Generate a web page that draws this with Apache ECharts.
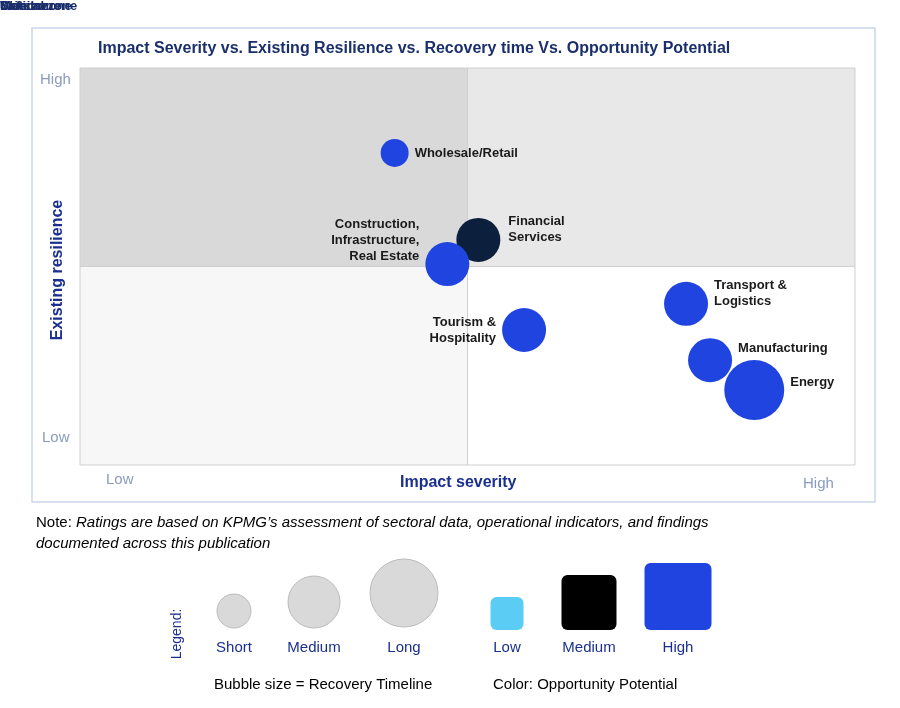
<!DOCTYPE html><html><head><meta charset="utf-8"><script src="https://cdn.jsdelivr.net/npm/echarts@6/dist/echarts.min.js"></script>
<style>body{margin:0}#c{width:900px;height:708px}</style></head><body><div id="c"></div><script>
const sectors=['Wholesale/Retail','Financial\nServices','Construction,\nInfrastructure,\nReal Estate','Tourism &\nHospitality','Transport &\nLogistics','Manufacturing','Energy'];
const impact=[4.06,5.14,4.74,5.73,7.82,8.13,8.70];
const resilience=[7.86,5.67,5.06,3.40,4.06,2.64,1.89];
const recovery=['Short','Medium','Medium','Medium','Medium','Medium','Long'];
const opportunity=['High','Medium','High','High','High','High','High'];
const labelSide=['right','right','left','left','right','right','right'];
const zones=['Safe zone','Watch zone','Monitor','Critical zone'];
const sizeLegend=['Short','Medium','Long'];
const colorLegend=['Low','Medium','High'];
const sizeMap={Short:28,Medium:44,Long:60};
const colorMap={Low:'#5bcdf5',Medium:'#0c1f3d',High:'#1f44e0'};
const legendColor={Low:'#5bcdf5',Medium:'#000000',High:'#1f44e0'};
const navy='#1a2f6b',tick='#8a9bbf';
const chart=echarts.init(document.getElementById('c'));
const labelOffset=[[0,0],[0,-10],[0,-24],[0,0],[0,-10],[0,-12],[0,-8]];
const data=sectors.map((s,i)=>({name:s,value:[impact[i],resilience[i]],symbolSize:sizeMap[recovery[i]],
 itemStyle:{color:colorMap[opportunity[i]],opacity:1},label:{position:labelSide[i],distance:i===1?8:6,offset:labelOffset[i]}}));
const g=[];
g.push({type:'rect',shape:{x:32,y:28,width:843,height:474},style:{fill:'none',stroke:'#c9d6ea',lineWidth:1.5},z:-1});
g.push({type:'text',left:98,top:41,style:{text:'Impact Severity vs. Existing Resilience vs. Recovery time Vs. Opportunity Potential',font:'bold 16px Arial',fill:navy}});
[['High',40,72],['Low',42,430],['Low',106,472],['High',803,476]].forEach(t=>g.push({type:'text',left:t[1],top:t[2],style:{text:t[0],font:'15px Arial',fill:tick}}));
g.push({type:'text',left:400,top:475,style:{text:'Impact severity',font:'bold 16px Arial',fill:'#1a2f8f'}});
g.push({type:'text',x:50,y:270,rotation:Math.PI/2,style:{text:'Existing resilience',font:'bold 16px Arial',fill:'#1a2f8f',align:'center',verticalAlign:'top'}});
g.push({type:'text',left:36,top:512,style:{text:'Note: {i|Ratings are based on KPMG\u2019s assessment of sectoral data, operational indicators, and findings}\n{i|documented across this publication}',font:'15px Arial',fill:'#000',lineHeight:21,rich:{i:{font:'italic 15px Arial',fill:'#000'}}}});
g.push({type:'text',x:177,y:634,rotation:Math.PI/2,style:{text:'Legend:',font:'14px Arial',fill:'#1a2f8f',align:'center',verticalAlign:'middle'}});
const sx=[234,314,404],sr=[17,26,34],sy=[611,602,593];
sizeLegend.forEach((s,i)=>{g.push({type:'circle',shape:{cx:sx[i],cy:sy[i],r:sr[i]},style:{fill:'#d9d9d9',stroke:'#bbb',lineWidth:1}});
 g.push({type:'text',x:sx[i],y:640,style:{text:s,font:'15px Arial',fill:'#1a2f8f',align:'center'}});});
const cx=[507,589,678],cs=[33,55,67];
colorLegend.forEach((s,i)=>{g.push({type:'rect',shape:{x:cx[i]-cs[i]/2,y:630-cs[i],width:cs[i],height:cs[i],r:6},style:{fill:legendColor[s]}});
 g.push({type:'text',x:cx[i],y:640,style:{text:s,font:'15px Arial',fill:'#1a2f8f',align:'center'}});});
g.push({type:'text',left:214,top:677,style:{text:'Bubble size = Recovery Timeline',font:'15px Arial',fill:'#000'}});
g.push({type:'text',left:493,top:677,style:{text:'Color: Opportunity Potential',font:'15px Arial',fill:'#000'}});
const zl={fontWeight:'bold',fontSize:13,color:navy,position:'insideTopLeft',distance:[24,10],fontFamily:'Arial'};
chart.setOption({animation:false,
 grid:{left:80,right:45,top:68,bottom:243},
 xAxis:{min:0,max:10,axisLabel:{show:false},axisTick:{show:false},splitLine:{show:false},axisLine:{show:false}},
 yAxis:{min:0,max:10,axisLabel:{show:false},axisTick:{show:false},splitLine:{show:false},axisLine:{show:false}},
 graphic:g,
 series:[{type:'scatter',data:data,
  label:{show:true,formatter:p=>p.name,fontWeight:'bold',fontSize:13,color:'#1a1a1a',fontFamily:'Arial',lineHeight:16,align:'left'},
  markArea:{silent:true,label:zl,data:[
   [{name:zones[0],coord:[0,5],itemStyle:{color:'#d9d9d9',borderColor:'#cfcfcf',borderWidth:1}},{coord:[5,10]}],
   [{name:zones[1],coord:[5,5],itemStyle:{color:'#e8e8e8',borderColor:'#cfcfcf',borderWidth:1}},{coord:[10,10]}],
   [{name:zones[2],coord:[0,0],itemStyle:{color:'#f7f7f7',borderColor:'#cfcfcf',borderWidth:1}},{coord:[5,5]}],
   [{name:zones[3],coord:[5,0],itemStyle:{color:'#ffffff',borderColor:'#cfcfcf',borderWidth:1}},{coord:[10,5]}]]}}]});
chart.setOption({series:[{data:data.map((d,i)=>labelSide[i]==='left'?Object.assign({},d,{label:Object.assign({},d.label,{align:'right'})}):d)}]});
</script></body></html>
